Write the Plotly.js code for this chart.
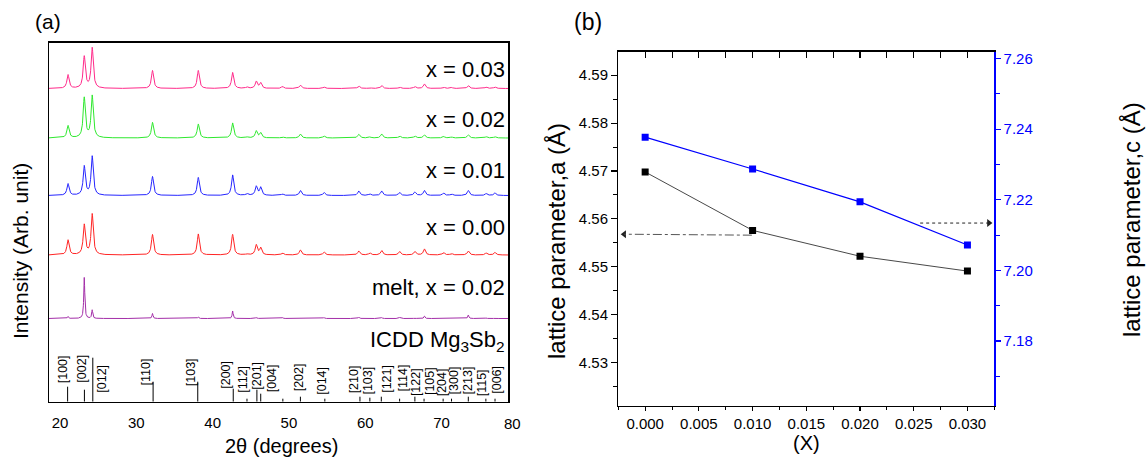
<!DOCTYPE html>
<html><head><meta charset="utf-8">
<script src="https://cdn.plot.ly/plotly-3.0.1.min.js"></script>
<style>html,body{margin:0;padding:0;background:#fff}#chart{width:1148px;height:460px}</style>
</head><body><div id="chart"></div>
<script>
// ================= DATA =================
// Panel (a): XRD peak positions (2theta, degrees) shared by the patterns
const peakPos = [21.05, 23.18, 24.22, 32.12, 38.12, 42.62, 44.5, 45.72, 46.3, 49.15, 51.5, 54.6, 59.15, 60.6, 62.15, 64.5, 66.5, 67.75, 70.25, 71.3, 73.5, 75.85, 77.0];
// peak intensities (arb. units)
const int003  = [13.7, 31.7, 40.4, 18, 18, 16, 1.5, 7, 5.5, 2, 3.5, 1.5, 2.5, 1, 3, 1.5, 2, 4.5, 1.5, 1, 3, 1.5, 1.5];
const int002  = [12.3, 40, 42, 15.6, 14, 15, 1, 7, 5, 1.2, 4, 2, 3.7, 1, 4, 2, 2, 3, 1.5, 1, 3, 1.3, 1.3];
const int001  = [11.7, 29, 39, 19, 18, 20.5, 2, 9, 8, 1.5, 5, 3, 4.5, 1.5, 4.5, 3, 3.5, 5, 2.5, 1.5, 5, 2, 2.5];
const int000  = [15, 30, 40.7, 20.5, 21, 20.5, 1, 10, 7, 2, 5, 3, 4, 2, 4.5, 3.5, 3.5, 6, 2.5, 1.5, 4, 2, 2.5];
const intMelt = [2, 41, 8.5, 5, 1.5, 7.5, 0, 1, 0.5, 1, 0.5, 1, 1.5, 0, 1, 1, 0.5, 2.5, 0.5, 0, 3.5, 0.5, 0.5];
const patternNames = ['x = 0.03', 'x = 0.02', 'x = 0.01', 'x = 0.00', 'melt, x = 0.02'];

// ICDD Mg3Sb2 reference lines
const icddPos = [21.0, 23.2, 24.3, 32.2, 38.05, 42.7, 44.5, 45.8, 46.3, 49.2, 51.5, 54.7, 59.3, 60.6, 62.1, 64.5, 66.5, 67.7, 70.2, 71.3, 73.5, 75.8, 77.0];
const icddInt = [15, 12, 44, 20, 20, 13, 3, 12, 8, 3, 5, 3, 5, 4, 5, 3, 5, 3, 3, 3, 5, 3, 3];
const icddHkl = ['[100]','[002]','[012]','[110]','[103]','[200]','[112]','[201]','[004]','','[202]','[014]','[210]','[103]','[121]','[114]','[122]','[105]','[204]','[300]','[213]','[115]','[006]'];
const xTicksA = [20, 30, 40, 50, 60, 70];

// Panel (b): lattice parameters
const xContent = [0.000, 0.010, 0.020, 0.030];
const latticeA = [4.5698, 4.5576, 4.5522, 4.5491];
const latticeC = [7.2377, 7.2287, 7.2194, 7.2072];

// ================= STYLE / POSITIONS =================
const W = 1148, H = 460;
const FONT = 'Liberation Sans, Arial, sans-serif';
const NARROW = 'Liberation Sans Narrow, Arial Narrow, Liberation Sans, Arial, sans-serif';
const px = (x, y) => ({x: x / W, y: 1 - y / H});
const patternOffsets = [313.2, 263.7, 206.2, 146.7, 83.2];
const patternColors = ['#ff2a8a', '#2ee82e', '#2525ff', '#ff2424', '#a32ea8'];
const patternWidths = [0.17, 0.17, 0.17, 0.17, 0.08];
const labelYs = [332.7, 282.2, 231.2, 174.2, 114.2];
// hkl label placement (x in degrees, y in axis units)
const hklLabelX = [20.43, 22.84, 25.47, 31.14, 37.13, 41.72, 43.89, 45.78, 47.75, 49.2, 51.36, 54.30, 58.57, 60.30, 62.82, 65.0, 66.66, 68.49, 70.03, 71.68, 73.51, 75.27, 77.23];
const hklLabelY = [32.7, 32.7, 22.7, 29.2, 29.2, 26.7, 22.2, 25.7, 23.2, 0, 24.7, 20.7, 22.7, 20.7, 22.7, 23.7, 19.7, 20.7, 19.2, 21.7, 21.7, 19.2, 21.7];
// guide arrows in panel (b): [tail x, head x, y]
const arrowA = {x0: 0.00993, x1: -0.00195, y: 4.5568};
const arrowC = {x0: 0.0256, x1: 0.0320, y: 7.2134};

const xRangeA = [18.56, 78.7];
const grid = [];
for (let x = xRangeA[0]; x <= xRangeA[1] + 1e-9; x += 0.02) grid.push(+x.toFixed(3));

function profile(ints, w) {
  return grid.map(x => ints.reduce((s, h, i) => s + h / (1 + Math.pow((x - peakPos[i]) / w, 2)), 0));
}

const patterns = [int003, int002, int001, int000, intMelt];
const traces = [];
patterns.forEach((ints, k) => {
  const prof = profile(ints, patternWidths[k]);
  traces.push({
    x: grid, y: prof.map(v => v + patternOffsets[k]),
    type: 'scatter', mode: 'lines', name: patternNames[k],
    line: {color: patternColors[k], width: 1},
    xaxis: 'x', yaxis: 'y', hoverinfo: 'skip'
  });
});

// ICDD stick lines
const sx = [], sy = [];
icddPos.forEach((p, i) => { sx.push(p, p, null); sy.push(0, icddInt[i], null); });
traces.push({x: sx, y: sy, type: 'scatter', mode: 'lines', line: {color: '#000', width: 1}, xaxis: 'x', yaxis: 'y', hoverinfo: 'skip', name: 'ICDD'});

// Panel (b) traces
traces.push({x: xContent, y: latticeA, type: 'scatter', mode: 'lines+markers', name: 'a',
  line: {color: '#333', width: 0.9}, marker: {symbol: 'square', size: 7, color: '#000'},
  xaxis: 'x2', yaxis: 'y2'});
traces.push({x: xContent, y: latticeC, type: 'scatter', mode: 'lines+markers', name: 'c',
  line: {color: '#0000ff', width: 1.2}, marker: {symbol: 'square', size: 7, color: '#0000ff'},
  xaxis: 'x2', yaxis: 'y3'});
traces.push({x: xContent, y: latticeA, type: 'scatter', mode: 'markers', marker: {opacity: 0},
  xaxis: 'x3', yaxis: 'y2', hoverinfo: 'skip', showlegend: false});
// arrowheads
traces.push({x: [arrowA.x1], y: [arrowA.y], type: 'scatter', mode: 'markers', xaxis: 'x2', yaxis: 'y2',
  marker: {symbol: 'triangle-left', size: 7, color: '#222'}, hoverinfo: 'skip', cliponaxis: false});
traces.push({x: [arrowC.x1], y: [arrowC.y], type: 'scatter', mode: 'markers', xaxis: 'x2', yaxis: 'y3',
  marker: {symbol: 'triangle-right', size: 7, color: '#222'}, hoverinfo: 'skip', cliponaxis: false});

const annotations = [];
// pattern labels
patternNames.forEach((t, k) => annotations.push({text: t, xref: 'x domain', x: 1, xanchor: 'right', xshift: -1,
  yref: 'y', y: labelYs[k], yanchor: 'middle', showarrow: false, font: {size: 22, family: FONT, color: '#000'}}));
annotations.push({text: 'ICDD Mg<sub>3</sub>Sb<sub>2</sub>', xref: 'x domain', x: 1, xanchor: 'right', xshift: -1,
  yref: 'y', y: 61, yanchor: 'middle', showarrow: false, font: {size: 22, family: FONT, color: '#000'}});
// hkl labels
icddHkl.forEach((t, i) => { if (t) annotations.push({text: t, xref: 'x', yref: 'y', x: hklLabelX[i], y: hklLabelY[i],
  textangle: -90, showarrow: false, xanchor: 'center', yanchor: 'middle', font: {size: 12.5, family: FONT, color: '#000'}}); });
// "80" tick label at the panel edge
annotations.push({text: '80', xref: 'paper', yref: 'paper', ...px(512, 423), xanchor: 'center', yanchor: 'middle', showarrow: false, font: {size: 15, family: FONT}});
// panel letters
annotations.push({text: '(a)', xref: 'paper', yref: 'paper', ...px(47.5, 22), showarrow: false, xanchor: 'center', yanchor: 'middle', font: {size: 21, family: FONT}});
annotations.push({text: '(b)', xref: 'paper', yref: 'paper', ...px(587.5, 22), showarrow: false, xanchor: 'center', yanchor: 'middle', font: {size: 23, family: FONT}});
// axis titles
annotations.push({text: 'Intensity (Arb. unit)', xref: 'paper', yref: 'paper', ...px(21, 251), textangle: -90, showarrow: false, xanchor: 'center', yanchor: 'middle', font: {size: 21, family: FONT}});
annotations.push({text: '2θ (degrees)', xref: 'paper', yref: 'paper', ...px(281.5, 446), showarrow: false, xanchor: 'center', yanchor: 'middle', font: {size: 20, family: FONT}});
annotations.push({text: 'lattice parameter,a (Å)', xref: 'paper', yref: 'paper', ...px(556, 241), textangle: -90, showarrow: false, xanchor: 'center', yanchor: 'middle', font: {size: 24, family: FONT}});
annotations.push({text: 'lattice parameter,c (Å)', xref: 'paper', yref: 'paper', ...px(1131, 220), textangle: -90, showarrow: false, xanchor: 'center', yanchor: 'middle', font: {size: 24, family: FONT}});
annotations.push({text: '(X)', xref: 'paper', yref: 'paper', ...px(806.7, 443), showarrow: false, xanchor: 'center', yanchor: 'middle', font: {size: 20, family: FONT}});

const shapes = [
  {type: 'line', xref: 'x2', yref: 'y2', x0: arrowA.x0, y0: arrowA.y - 0.0002, x1: arrowA.x1, y1: arrowA.y, line: {color: '#555', width: 1, dash: 'dashdot'}},
  {type: 'line', xref: 'x2', yref: 'y3', x0: arrowC.x0, y0: arrowC.y, x1: arrowC.x1, y1: arrowC.y, line: {color: '#222', width: 1, dash: 'dot'}}
];

const layout = {
  width: W, height: H, margin: {l: 0, r: 0, t: 0, b: 0}, showlegend: false,
  paper_bgcolor: '#fff', plot_bgcolor: 'rgba(0,0,0,0)', font: {family: FONT, color: '#000'},
  xaxis: {domain: [49 / W, 508 / W], range: xRangeA, anchor: 'y', showgrid: false, zeroline: false,
    showline: true, linecolor: '#000', linewidth: 1.5, mirror: true,
    tickmode: 'array', tickvals: xTicksA, ticks: 'outside', ticklen: 7, tickcolor: 'rgba(0,0,0,0)',
    tickfont: {size: 15, family: FONT}},
  yaxis: {domain: [(H - 401.7) / H, (H - 42.7) / H], range: [0, 359], anchor: 'x', showgrid: false, zeroline: false,
    showline: true, linecolor: '#000', linewidth: 1.5, mirror: true, showticklabels: false, ticks: ''},
  xaxis2: {domain: [618.3 / W, 994.3 / W], range: [-0.0025, 0.0325], anchor: 'y2', showgrid: false, zeroline: false,
    showline: true, linecolor: '#000', linewidth: 1.3, tick0: 0, dtick: 0.005, tickformat: '.3f',
    ticks: 'outside', ticklen: 4, tickwidth: 1.1, tickcolor: '#000',
    minor: {dtick: 0.0025, tick0: 0, ticks: 'outside', ticklen: 3, tickcolor: '#000', tickwidth: 1},
    tickfont: {size: 15, family: NARROW}},
  xaxis3: {overlaying: 'x2', side: 'top', anchor: 'y2', range: [-0.0025, 0.0325], showgrid: false, zeroline: false,
    showline: true, linecolor: '#000', linewidth: 1.3, tick0: 0, dtick: 0.005, showticklabels: false,
    ticks: 'inside', ticklen: 6, tickwidth: 1.1, tickcolor: '#000',
    minor: {dtick: 0.0025, tick0: 0, ticks: 'inside', ticklen: 6, tickcolor: '#000', tickwidth: 1}},
  yaxis2: {domain: [(H - 405.7) / H, (H - 51.7) / H], range: [4.521, 4.5949], anchor: 'x2', showgrid: false, zeroline: false,
    showline: true, linecolor: '#000', linewidth: 1.3, tick0: 4.53, dtick: 0.01, tickformat: '.2f',
    ticks: 'outside', ticklen: 6, tickwidth: 1.1, tickcolor: '#000',
    minor: {dtick: 0.005, tick0: 4.525, ticks: 'outside', ticklen: 4, tickcolor: '#000', tickwidth: 1},
    tickfont: {size: 15, family: NARROW}},
  yaxis3: {overlaying: 'y2', side: 'right', anchor: 'x2', range: [7.1617, 7.2619], showgrid: false, zeroline: false,
    showline: true, linecolor: '#0000ff', linewidth: 1.3, tick0: 7.18, dtick: 0.02, tickformat: '.2f',
    ticks: 'outside', ticklen: 5, tickwidth: 1.1, tickcolor: '#0000ff',
    minor: {dtick: 0.01, tick0: 7.17, ticks: 'outside', ticklen: 4, tickcolor: '#0000ff', tickwidth: 1},
    tickfont: {size: 15, family: NARROW, color: '#0000ff'}},
  annotations: annotations, shapes: shapes
};

Plotly.newPlot('chart', traces, layout, {staticPlot: true, displayModeBar: false});
</script>
</body></html>
